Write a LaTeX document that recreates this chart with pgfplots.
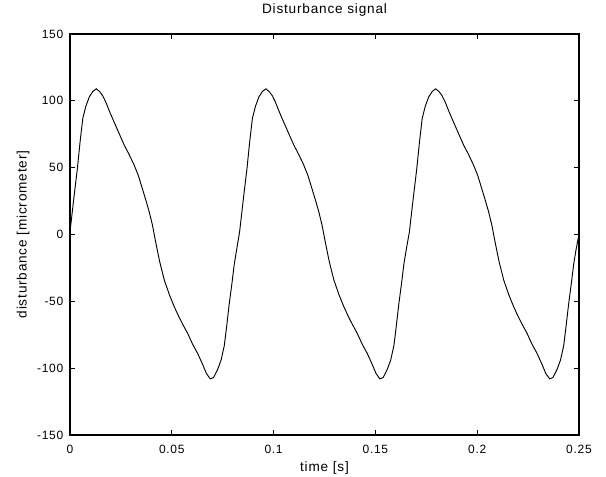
\documentclass[border=0pt]{standalone}
\usepackage{fontspec}
\setmainfont{Liberation Sans}[LetterSpace=6]
\usepackage{pgfplots}
\pgfplotsset{compat=1.18}
\begin{document}
\begin{tikzpicture}
\useasboundingbox (-52.5pt,-30.75pt) rectangle (402pt,326.25pt);
\begin{axis}[
  scale only axis,
  width=381.75pt, height=300.75pt,
  xmin=0, xmax=0.25, ymin=-150, ymax=150,
  xtick={0,0.05,0.1,0.15,0.2,0.25},
  xticklabels={0,0.05,0.1,0.15,0.2,0.25},
  ytick={-150,-100,-50,0,50,100,150},
  tick align=inside, tick pos=both,
  major tick length=3.5pt,
  /pgf/number format/assume math mode=true,
  tick label style={font=\fontsize{9}{10}\selectfont},
  xticklabel style={anchor=base, yshift=-13.5pt},
  yticklabel style={anchor=east, xshift=-1.5pt},
  axis line style={line width=0.8pt},
  every tick/.style={line width=0.6pt, black},
  title={Disturbance signal},
  title style={at={(axis description cs:0.5,1)}, anchor=base, yshift=9.5pt, font=\fontsize{10.2}{12}\selectfont},
  xlabel={time [s]},
  xlabel style={at={(axis description cs:0.5,0)}, anchor=base, yshift=-27pt, font=\fontsize{10.2}{12}\selectfont},
  ylabel={disturbance [micrometer]},
  ylabel style={at={(axis description cs:-0.0923,0.5)}, anchor=center, font=\fontsize{10.2}{12}\selectfont},
]
\addplot[black, line width=0.7pt] coordinates {
(0.0000,2) (0.0018,26) (0.0036,49) (0.0050,70) (0.0063,87) (0.0078,96) (0.0095,103) (0.0112,107) (0.0129,109) (0.0145,107) (0.0160,104) (0.0176,99) (0.0197,91) (0.0217,84) (0.0240,76) (0.0266,67) (0.0290,60) (0.0315,52) (0.0336,44) (0.0356,34) (0.0372,26) (0.0389,17) (0.0405,7) (0.0420,-5) (0.0440,-20) (0.0463,-34) (0.0488,-45) (0.0512,-54) (0.0533,-61) (0.0553,-67) (0.0578,-74) (0.0602,-82) (0.0627,-89) (0.0651,-97) (0.0670,-104) (0.0689,-108) (0.0705,-107) (0.0725,-101) (0.0742,-94) (0.0758,-83) (0.0770,-68) (0.0782,-52) (0.0795,-37) (0.0807,-22) (0.0820,-10)
(0.0833,2) (0.0851,26) (0.0869,49) (0.0883,70) (0.0896,87) (0.0911,96) (0.0928,103) (0.0945,107) (0.0962,109) (0.0978,107) (0.0993,104) (0.1009,99) (0.1030,91) (0.1050,84) (0.1073,76) (0.1099,67) (0.1123,60) (0.1148,52) (0.1169,44) (0.1189,34) (0.1205,26) (0.1222,17) (0.1238,7) (0.1253,-5) (0.1273,-20) (0.1296,-34) (0.1321,-45) (0.1345,-54) (0.1366,-61) (0.1386,-67) (0.1411,-74) (0.1435,-82) (0.1460,-89) (0.1484,-97) (0.1503,-104) (0.1522,-108) (0.1538,-107) (0.1558,-101) (0.1575,-94) (0.1591,-83) (0.1603,-68) (0.1615,-52) (0.1628,-37) (0.1640,-22) (0.1653,-10)
(0.1667,2) (0.1685,26) (0.1703,49) (0.1717,70) (0.1730,87) (0.1745,96) (0.1762,103) (0.1779,107) (0.1796,109) (0.1812,107) (0.1827,104) (0.1843,99) (0.1864,91) (0.1884,84) (0.1907,76) (0.1933,67) (0.1957,60) (0.1982,52) (0.2003,44) (0.2023,34) (0.2039,26) (0.2056,17) (0.2072,7) (0.2087,-5) (0.2107,-20) (0.2130,-34) (0.2155,-45) (0.2179,-54) (0.2200,-61) (0.2220,-67) (0.2245,-74) (0.2269,-82) (0.2294,-89) (0.2318,-97) (0.2337,-104) (0.2356,-108) (0.2372,-107) (0.2392,-101) (0.2409,-94) (0.2425,-83) (0.2437,-68) (0.2449,-52) (0.2462,-37) (0.2474,-22) (0.2487,-10) (0.2500,0)
};
\end{axis}
\end{tikzpicture}
\end{document}
